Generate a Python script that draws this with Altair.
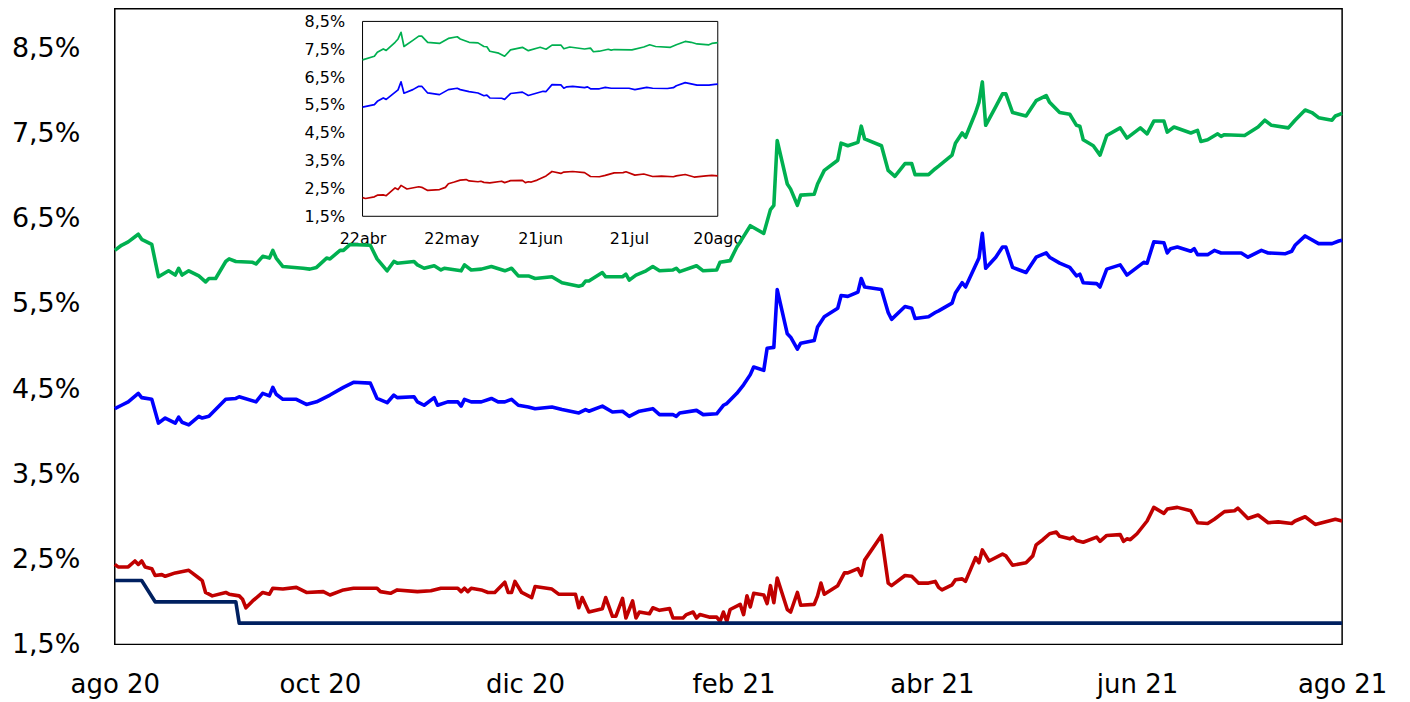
import altair as alt
import pandas as pd

START = "2020-08-20T00:00"

# Series: days after 2020-08-20 and yield in %
series_names = ["Verde", "Azul", "Rojo", "Tasa"]
series_colors = ["#00B050", "#0000FF", "#C00000", "#002060"]

green_days = [0, 2, 4, 7, 8, 11, 13, 16, 18, 19, 20, 22, 25, 27, 28, 30, 33, 34, 36, 41, 42, 44, 46, 47, 48, 50, 56, 58, 60, 63, 64, 67, 68, 70, 76, 78, 81, 83, 84, 89, 90, 92, 95, 97, 98, 103, 104, 106, 109, 112, 116, 118, 120, 123, 125, 130, 133, 138, 139, 140, 141, 145, 146, 151, 152, 153, 155, 158, 160, 162, 166, 167, 168, 173, 175, 179, 180, 183, 185, 186, 189, 193, 195, 196, 197, 200, 201, 203, 204, 208, 209, 211, 215, 216, 218, 221, 222, 223, 228, 230, 232, 235, 237, 238, 242, 244, 245, 249, 250, 252, 253, 256, 257, 258, 259, 262, 264, 265, 267, 271, 274, 277, 278, 281, 284, 286, 287, 288, 291, 293, 295, 299, 301, 305, 307, 309, 312, 313, 315, 320, 322, 323, 325, 328, 329, 330, 336, 340, 342, 344, 349, 351, 354, 356, 358, 362, 363, 365]
green_vals = [6.13, 6.19, 6.23, 6.32, 6.26, 6.20, 5.82, 5.89, 5.84, 5.92, 5.84, 5.89, 5.83, 5.76, 5.80, 5.80, 6.00, 6.03, 6.00, 5.99, 5.97, 6.06, 6.04, 6.13, 6.04, 5.94, 5.92, 5.91, 5.93, 6.04, 6.03, 6.13, 6.13, 6.20, 6.19, 6.03, 5.89, 6.00, 5.98, 6.00, 5.96, 5.92, 5.95, 5.90, 5.92, 5.89, 5.96, 5.90, 5.91, 5.94, 5.89, 5.92, 5.83, 5.83, 5.80, 5.82, 5.75, 5.71, 5.72, 5.77, 5.77, 5.87, 5.82, 5.82, 5.85, 5.78, 5.84, 5.89, 5.94, 5.89, 5.90, 5.92, 5.88, 5.95, 5.89, 5.90, 5.99, 6.01, 6.17, 6.23, 6.42, 6.33, 6.61, 6.66, 7.42, 6.91, 6.85, 6.66, 6.78, 6.79, 6.91, 7.07, 7.19, 7.39, 7.36, 7.40, 7.59, 7.44, 7.36, 7.07, 7.00, 7.15, 7.15, 7.02, 7.02, 7.09, 7.12, 7.25, 7.39, 7.51, 7.46, 7.75, 7.87, 8.11, 7.60, 7.82, 7.97, 7.97, 7.75, 7.71, 7.89, 7.95, 7.87, 7.75, 7.73, 7.60, 7.59, 7.43, 7.36, 7.25, 7.48, 7.57, 7.45, 7.57, 7.50, 7.65, 7.65, 7.52, 7.58, 7.51, 7.54, 7.41, 7.43, 7.50, 7.47, 7.49, 7.48, 7.58, 7.66, 7.60, 7.57, 7.66, 7.78, 7.75, 7.69, 7.66, 7.71, 7.74]

blue_days = [0, 2, 4, 7, 8, 11, 13, 15, 18, 19, 20, 22, 25, 26, 28, 33, 36, 37, 42, 44, 46, 47, 48, 50, 54, 57, 60, 64, 68, 71, 76, 78, 81, 83, 84, 89, 90, 92, 95, 96, 99, 102, 103, 104, 106, 109, 112, 114, 116, 118, 120, 123, 125, 130, 133, 138, 140, 141, 145, 148, 151, 153, 156, 160, 162, 166, 167, 168, 173, 175, 179, 181, 182, 185, 187, 189, 190, 193, 194, 196, 197, 200, 201, 203, 204, 208, 209, 211, 215, 216, 218, 221, 222, 223, 228, 230, 231, 235, 237, 238, 242, 244, 245, 249, 250, 252, 253, 257, 258, 259, 262, 264, 265, 267, 271, 274, 277, 278, 281, 284, 286, 287, 288, 292, 293, 295, 299, 301, 306, 307, 309, 312, 313, 314, 316, 320, 321, 322, 325, 327, 329, 335, 337, 341, 343, 348, 350, 351, 354, 358, 362, 364, 365]
blue_vals = [4.27, 4.31, 4.35, 4.45, 4.40, 4.38, 4.10, 4.16, 4.10, 4.17, 4.11, 4.08, 4.18, 4.16, 4.18, 4.38, 4.39, 4.41, 4.35, 4.45, 4.42, 4.52, 4.44, 4.38, 4.38, 4.32, 4.35, 4.43, 4.52, 4.58, 4.57, 4.39, 4.34, 4.43, 4.40, 4.41, 4.35, 4.31, 4.40, 4.31, 4.35, 4.35, 4.30, 4.38, 4.35, 4.35, 4.39, 4.35, 4.35, 4.38, 4.31, 4.29, 4.27, 4.29, 4.26, 4.22, 4.26, 4.24, 4.30, 4.23, 4.24, 4.18, 4.24, 4.27, 4.20, 4.20, 4.18, 4.22, 4.25, 4.20, 4.21, 4.31, 4.33, 4.45, 4.55, 4.67, 4.76, 4.72, 4.98, 4.99, 5.67, 5.15, 5.11, 4.97, 5.04, 5.07, 5.23, 5.35, 5.45, 5.60, 5.59, 5.64, 5.80, 5.70, 5.67, 5.40, 5.32, 5.47, 5.45, 5.33, 5.35, 5.40, 5.42, 5.51, 5.63, 5.75, 5.70, 6.04, 6.33, 5.92, 6.05, 6.17, 6.17, 5.93, 5.87, 6.05, 6.10, 6.05, 5.98, 5.93, 5.83, 5.85, 5.75, 5.74, 5.70, 5.91, 5.96, 5.84, 5.99, 5.98, 6.23, 6.22, 6.10, 6.15, 6.17, 6.12, 6.15, 6.08, 6.08, 6.13, 6.10, 6.10, 6.05, 6.13, 6.10, 6.09, 6.12, 6.19, 6.30, 6.21, 6.21, 6.24, 6.25]

red_days = [0, 1, 4, 6, 7, 8, 9, 11, 12, 14, 15, 18, 22, 23, 25, 26, 27, 29, 33, 34, 37, 38, 39, 41, 44, 46, 47, 50, 54, 57, 62, 64, 68, 71, 78, 79, 82, 84, 90, 94, 97, 102, 103, 104, 105, 106, 109, 111, 113, 116, 117, 118, 119, 121, 124, 125, 130, 132, 137, 138, 139, 141, 145, 146, 148, 149, 151, 152, 154, 155, 156, 159, 160, 162, 165, 166, 169, 170, 172, 173, 174, 177, 179, 180, 181, 182, 183, 186, 187, 188, 189, 190, 193, 194, 195, 196, 197, 200, 201, 203, 204, 208, 209, 210, 211, 215, 217, 218, 221, 222, 223, 228, 230, 231, 235, 237, 239, 242, 244, 245, 246, 249, 250, 252, 253, 256, 257, 258, 260, 264, 265, 267, 271, 273, 274, 276, 278, 280, 281, 284, 285, 286, 288, 292, 293, 295, 299, 300, 301, 302, 304, 307, 309, 312, 313, 316, 320, 322, 325, 327, 330, 333, 334, 337, 340, 343, 346, 350, 351, 354, 357, 361, 363, 365]
red_vals = [2.44, 2.41, 2.41, 2.48, 2.44, 2.48, 2.41, 2.39, 2.31, 2.32, 2.30, 2.34, 2.37, 2.34, 2.28, 2.25, 2.11, 2.07, 2.11, 2.09, 2.07, 2.03, 1.93, 2.01, 2.11, 2.09, 2.16, 2.15, 2.17, 2.11, 2.12, 2.08, 2.14, 2.16, 2.16, 2.12, 2.10, 2.14, 2.12, 2.13, 2.16, 2.16, 2.12, 2.16, 2.12, 2.16, 2.14, 2.11, 2.11, 2.23, 2.11, 2.11, 2.24, 2.11, 2.05, 2.18, 2.15, 2.09, 2.09, 1.93, 2.05, 1.88, 1.92, 2.05, 1.83, 1.83, 2.04, 1.81, 2.01, 1.81, 1.88, 1.86, 1.93, 1.90, 1.92, 1.81, 1.81, 1.85, 1.88, 1.81, 1.85, 1.82, 1.82, 1.77, 1.88, 1.77, 1.91, 1.97, 1.85, 2.07, 1.94, 2.10, 2.08, 1.98, 2.19, 1.99, 2.28, 1.91, 1.88, 2.11, 1.96, 1.97, 2.07, 2.22, 2.09, 2.19, 2.34, 2.34, 2.39, 2.31, 2.49, 2.78, 2.22, 2.19, 2.31, 2.30, 2.22, 2.22, 2.24, 2.17, 2.14, 2.20, 2.26, 2.27, 2.24, 2.52, 2.46, 2.61, 2.48, 2.56, 2.54, 2.43, 2.46, 2.54, 2.67, 2.73, 2.80, 2.82, 2.77, 2.74, 2.76, 2.72, 2.70, 2.76, 2.71, 2.78, 2.79, 2.71, 2.74, 2.73, 2.80, 2.95, 3.11, 3.04, 3.09, 3.11, 3.07, 2.93, 2.92, 2.97, 3.06, 3.07, 3.10, 2.98, 3.02, 2.93, 2.94, 2.92, 2.95, 3.00, 2.91, 2.95, 2.97, 2.95]

rate_days = [0, 8, 12, 36, 37, 365]
rate_vals = [2.25, 2.25, 2.00, 2.00, 1.75, 1.75]

main_y_ticks = [1.5, 2.5, 3.5, 4.5, 5.5, 6.5, 7.5, 8.5]
inset_y_ticks = [1.5, 2.5, 3.5, 4.5, 5.5, 6.5, 7.5, 8.5]
inset_start_day = 245  # 22 abr 2021

MONTHS = "['ene','feb','mar','abr','may','jun','jul','ago','sep','oct','nov','dic']"

frames = []
for name, d, v in [("Verde", green_days, green_vals), ("Azul", blue_days, blue_vals),
                   ("Rojo", red_days, red_vals), ("Tasa", rate_days, rate_vals)]:
    frames.append(pd.DataFrame({"serie": name, "day": d, "value": v}))
df = pd.concat(frames, ignore_index=True)
start_ts = pd.Timestamp(START)
df["date"] = (start_ts + pd.to_timedelta(df["day"], unit="D")).dt.strftime("%Y-%m-%dT%H:%M")

df_inset = df[(df["serie"] != "Tasa") & (df["day"] >= inset_start_day)]

frame_df = pd.DataFrame({"start": ["2021-04-22T00:00"], "end": ["2021-08-20T00:00"],
                         "lo": [1.5], "hi": [8.5]})

color = alt.Color("serie:N", scale=alt.Scale(domain=series_names, range=series_colors), legend=None)

main_x = alt.X(
    "date:T",
    scale=alt.Scale(domain=[alt.DateTime(year=2020, month=8, date=20),
                            alt.DateTime(year=2021, month=8, date=20)]),
    axis=alt.Axis(
        title=None,
        values=[alt.DateTime(year=2020, month=8, date=20), alt.DateTime(year=2020, month=10, date=20),
                alt.DateTime(year=2020, month=12, date=20), alt.DateTime(year=2021, month=2, date=20),
                alt.DateTime(year=2021, month=4, date=20), alt.DateTime(year=2021, month=6, date=20),
                alt.DateTime(year=2021, month=8, date=20)],
        labelExpr=MONTHS + "[month(datum.value)] + ' ' + timeFormat(datum.value, '%y')",
        labelFontSize=26, labelPadding=27, labelFlush=False, labelOverlap=False,
        ticks=False, domain=False, grid=False,
    ),
)
main_y = alt.Y(
    "value:Q",
    scale=alt.Scale(domain=[1.5, 8.97], nice=False, zero=False),
    axis=alt.Axis(title=None, values=main_y_ticks,
                  labelExpr="replace(format(datum.value, '.1f'), '.', ',') + '%'",
                  labelFontSize=27, labelPadding=35, ticks=False, domain=False, grid=False),
)

main = alt.Chart(df).mark_line(strokeWidth=3.6, strokeJoin="round").encode(
    x=main_x, y=main_y, color=color, order=alt.Order("day:Q")
)

inset_x_scale = alt.Scale(domain=[alt.DateTime(year=2021, month=4, date=22),
                                  alt.DateTime(year=2021, month=8, date=20)],
                          range=[248.3, 604.3])
inset_y_scale = alt.Scale(domain=[1.5, 8.5], range=[208, 12.7], nice=False, zero=False)
inset_x_axis = alt.Axis(
    title=None, orient="bottom", offset=-429,
    values=[alt.DateTime(year=2021, month=4, date=22), alt.DateTime(year=2021, month=5, date=22),
            alt.DateTime(year=2021, month=6, date=21), alt.DateTime(year=2021, month=7, date=21),
            alt.DateTime(year=2021, month=8, date=20)],
    labelExpr="date(datum.value) + " + MONTHS + "[month(datum.value)]",
    labelFontSize=16, labelPadding=14, labelFlush=False, labelOverlap=False,
    ticks=False, domain=False, grid=False,
)
inset_y_axis = alt.Axis(
    title=None, orient="left", offset=-248.3, values=inset_y_ticks,
    labelExpr="replace(format(datum.value, '.1f'), '.', ',') + '%'",
    labelFontSize=16, labelPadding=18, ticks=False, domain=False, grid=False,
)

inset_frame = alt.Chart(frame_df).mark_rect(fill="white", stroke="black", strokeWidth=1).encode(
    x=alt.X("start:T", scale=inset_x_scale, axis=inset_x_axis),
    x2="end:T",
    y=alt.Y("lo:Q", scale=inset_y_scale, axis=inset_y_axis),
    y2="hi:Q",
)
inset_lines = alt.Chart(df_inset).mark_line(strokeWidth=1.7, strokeJoin="round").encode(
    x=alt.X("date:T", scale=inset_x_scale, axis=inset_x_axis),
    y=alt.Y("value:Q", scale=inset_y_scale, axis=inset_y_axis),
    color=color, order=alt.Order("day:Q"),
)
inset = alt.layer(inset_frame, inset_lines)

chart = alt.layer(main, inset).resolve_scale(
    x="independent", y="independent"
).properties(
    width=1230, height=637,
    padding={"left": 107, "top": 0, "right": 60, "bottom": 55},
    autosize=alt.AutoSizeParams(type="none"),
    background="white",
).configure_view(
    stroke="black", strokeWidth=1.5
).configure_axis(
    labelFont="DejaVu Sans", labelColor="black"
)

chart.save("out.html", embed_options={"renderer": "svg", "actions": False})
